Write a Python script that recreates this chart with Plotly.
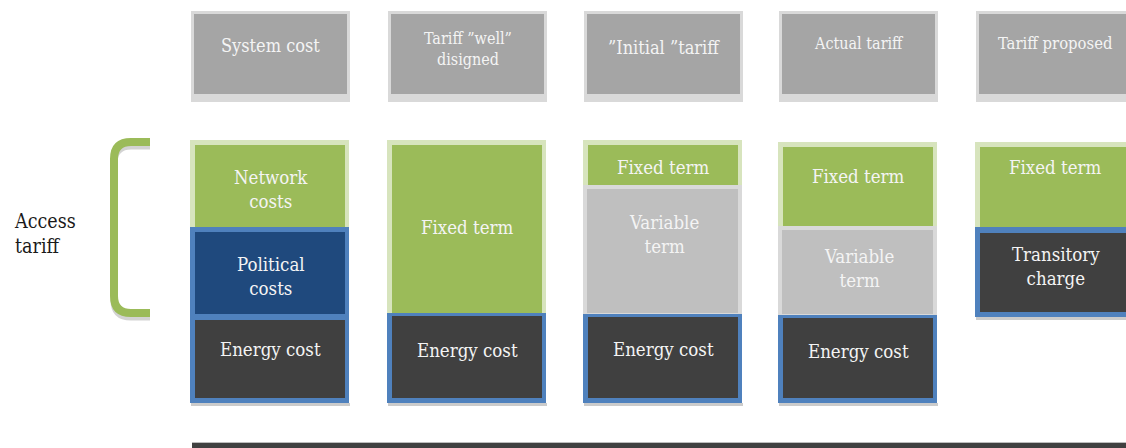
import plotly.graph_objects as go

# ---- data -------------------------------------------------------------
headers = ["System cost", "Tariff \u201dwell\u201d<br>disigned", "\u201dInitial \u201dtariff",
           "Actual tariff", "Tariff proposed"]

# each column is stacked from the bottom up; None leaves an empty slot
seg_labels = [
    ["Energy cost", "Political<br>costs", "Network<br>costs"],
    ["Energy cost", "Fixed term"],
    ["Energy cost", "Variable<br>term", "Fixed term"],
    ["Energy cost", "Variable<br>term", "Fixed term"],
    [None, "Transitory<br>charge", "Fixed term"],
]
seg_kinds = [
    ["energy", "political", "fixed"],
    ["energy", "fixed"],
    ["energy", "variable", "fixed"],
    ["energy", "variable", "fixed"],
    ["energy", "charge", "fixed"],
]
seg_values = [
    [86, 90, 87],
    [90, 173],
    [89, 129, 45],
    [88, 89, 84],
    [86, 90, 85],
]
bracket_label = "Access<br>tariff"

# ---- layout / style ----------------------------------------------------
W, H = 1126, 448
BASE = 403                      # pixel row of the stack baseline
col_left = [190, 387, 583, 778, 975]
col_w = 159
FONT = "DejaVu Serif Condensed, Liberation Serif, serif"

# where each label sits, measured down from its segment's top edge
label_drop = [
    [32, 49, 49],
    [37, 87],
    [35, 49, 27],
    [36, 42, 34],
    [0, 39, 25],
]
header_font = [18, 16, 18, 16, 16.5]
header_y = [45, 49, 47, 43, 43]

style = {
    "fixed":     dict(edge="#d7e4bd", fill="#9bbb59", ins=(5, 4, 5, 0)),
    "political": dict(edge="#4f81bd", fill="#1f497d", ins=(5, 4, 5, 3)),
    "energy":    dict(edge="#4f81bd", fill="#404040", ins=(5, 4, 3, 5)),
    "charge":    dict(edge="#4f81bd", fill="#404040", ins=(5, 4, 6, 5)),
    "variable":  dict(edge="#d9d9d9", fill="#bfbfbf", ins=(4, 4, 4, 1)),
}


def v(py):
    """pixel row -> y value"""
    return BASE - py


shapes, annotations = [], []


def rect(x0, x1, y0, y1, color, layer="above"):
    shapes.append(dict(type="rect", xref="x", yref="y", x0=x0, x1=x1, y0=y0, y1=y1,
                       fillcolor=color, line=dict(width=0), layer=layer))


# header boxes
for i, text in enumerate(headers):
    x0 = col_left[i] + 1
    x1 = x0 + col_w
    rect(x0, x1, v(102), v(11), "#d9d9d9")
    rect(x0 + 3, x1 - 3, v(94), v(14), "#a5a5a5")
    annotations.append(dict(x=(x0 + x1) / 2, y=v(header_y[i]), xref="x", yref="y",
                            text=text, showarrow=False,
                            font=dict(family=FONT, size=header_font[i], color="#f4f4f4")))

# stacked segments
for i in range(len(seg_values)):
    x0 = col_left[i]
    x1 = x0 + col_w
    bottom = 0
    first = True
    for j, (lab, kind, val) in enumerate(zip(seg_labels[i], seg_kinds[i], seg_values[i])):
        top = bottom + val
        if lab is not None:
            st = style[kind]
            l, r, t, b = st["ins"]
            if first:
                rect(x0 + 1, x1 + 1, bottom - 3, bottom, "#cbcbcb")
                first = False
            rect(x0, x1, bottom, top, st["edge"])
            rect(x0 + l, x1 - r, bottom + b, top - t, st["fill"])
            annotations.append(dict(x=(x0 + x1) / 2 + 1, y=top - label_drop[i][j],
                                    xref="x", yref="y", text=lab, showarrow=False,
                                    font=dict(family=FONT, size=18.5, color="#f4f4f4")))
        bottom = top

# bracket spanning the access-tariff part of the first column
br_bot = seg_values[0][0] + 4
br_top = sum(seg_values[0]) - 2
bx, bxr, rad = 114, 150, 17


def bracket_path(dy):
    yt, yb = br_top + dy, br_bot + dy
    return (f"M {bxr},{yt} L {bx + rad},{yt} Q {bx},{yt} {bx},{yt - rad} "
            f"L {bx},{yb + rad} Q {bx},{yb} {bx + rad},{yb} L {bxr},{yb}")


shapes.append(dict(type="path", xref="x", yref="y", path=bracket_path(-4),
                   line=dict(color="#d3d3d3", width=7), layer="above"))
shapes.append(dict(type="path", xref="x", yref="y", path=bracket_path(0),
                   line=dict(color="#9bbb59", width=8), layer="above"))
annotations.append(dict(x=12, y=v(234), xref="x", yref="y", text=bracket_label,
                        showarrow=False, xanchor="left", align="left",
                        font=dict(family=FONT, size=19.5, color="#1a1a1a")))

# base line at the foot of the diagram
rect(192, W, v(448), v(443), "#404040")
rect(192, W, v(443), v(442), "#bdbdbd")

fig = go.Figure()
fig.update_layout(
    width=W, height=H, margin=dict(l=0, r=0, t=0, b=0),
    paper_bgcolor="white", plot_bgcolor="white",
    xaxis=dict(range=[0, W], visible=False, fixedrange=True),
    yaxis=dict(range=[v(H), v(0)], visible=False, fixedrange=True),
    shapes=shapes, annotations=annotations, showlegend=False,
)
fig.write_html("out.html")
